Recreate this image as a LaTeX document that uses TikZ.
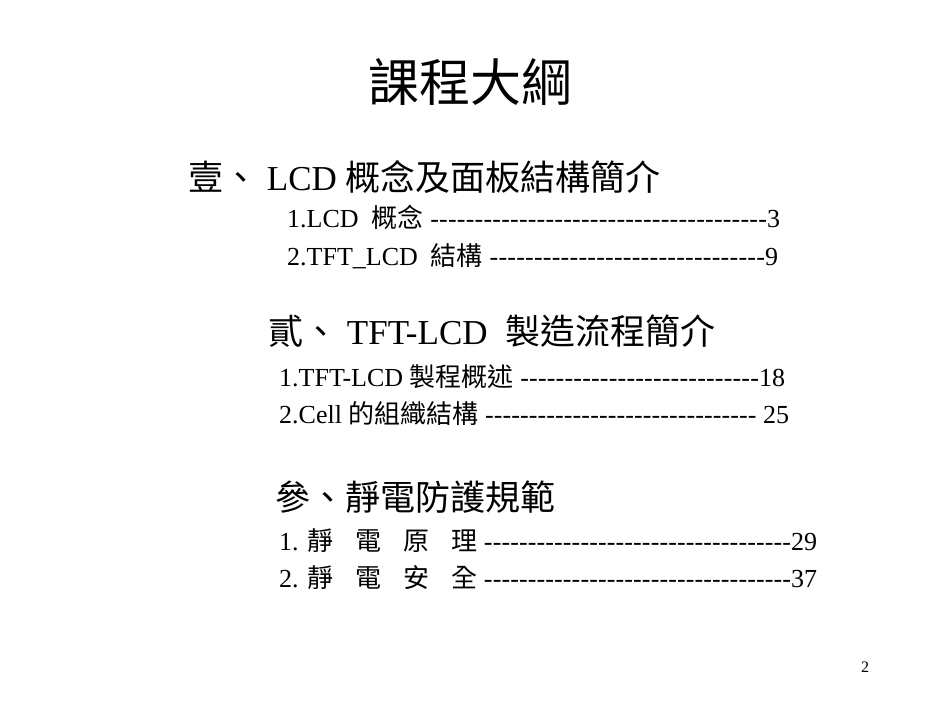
\documentclass[tikz,border=0pt]{standalone}
\usepackage{fontspec}
\setmainfont{Liberation Serif}
\newfontfamily\cjk{Noto Sans CJK TC}
\newcommand{\dl}[3]{\makebox[#1pt][l]{#2\xleaders\hbox{-}\hfill #3}}
\begin{document}
\begin{tikzpicture}[x=1pt,y=-1pt,
  t/.style={inner sep=0pt,anchor=west},
  big/.style={t,font=\fontsize{35}{40}\selectfont},
  sm/.style={t,font=\fontsize{26}{30}\selectfont}]
\useasboundingbox[fill=white] (0,0) rectangle (950,713);
\node[inner sep=0pt,font=\fontsize{51}{56}\selectfont\cjk] (title) at (470,82) {課程大綱};
\node[big] (h1) at (188,177) {{\cjk 壹、} LCD {\cjk 概念及面板結構簡介}};
\node[sm] (l1) at (287,217) {\dl{493}{1.LCD\ \ {\cjk 概念} }{3}};
\node[sm] (l2) at (287,256) {\dl{491}{2.TFT\_LCD\ \ {\cjk 結構} }{9}};
\node[big] (h2) at (268,331) {{\cjk 貳、} TFT-LCD\ \ {\cjk 製造流程簡介}};
\node[sm] (l3) at (279,377) {\dl{506}{1.TFT-LCD {\cjk 製程概述} }{18}};
\node[sm] (l4) at (279,414) {\dl{510}{2.Cell {\cjk 的組織結構} }{ 25}};
\node[big] (h3) at (275,497) {\cjk 參、靜電防護規範};
\node[sm] (l5) at (279,541) {\dl{538}{1. {\cjk 靜\hspace{22pt}電\hspace{22pt}原\hspace{22pt}理} }{29}};
\node[sm] (l6) at (279,578) {\dl{538}{2. {\cjk 靜\hspace{22pt}電\hspace{22pt}安\hspace{22pt}全} }{37}};
\node[inner sep=0pt,font=\fontsize{16}{18}\selectfont] (pg) at (865,667) {2};
\end{tikzpicture}
\end{document}
